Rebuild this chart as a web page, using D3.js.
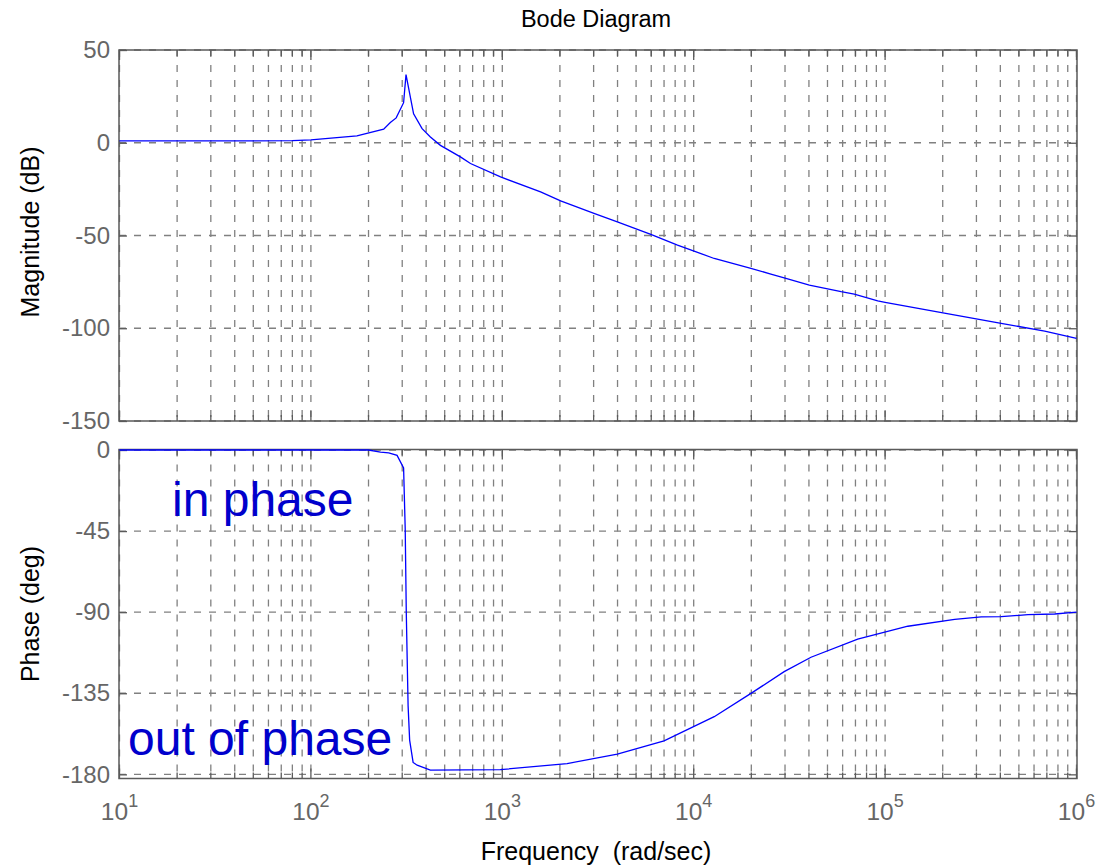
<!DOCTYPE html>
<head>
	<meta charset="utf-8">
	<script src="https://d3js.org/d3.v7.min.js"></script>
	<style>
		body { margin: 0; background: #fff; }
		text { font-family: "Liberation Sans", Arial, sans-serif; }
		.tick text { fill: #666; font-size: 24px; }
		.tick line { stroke: #5a5a5a; stroke-width: 1.3; }
		.grid { stroke: #808080; stroke-width: 1.3; stroke-dasharray: 7,8; fill: none; }
		.frame { stroke: #5a5a5a; stroke-width: 1.5; fill: none; }
		.curve { stroke: #0000ff; stroke-width: 1.3; fill: none; }
		.note { fill: #0000cc; font-size: 48px; }
	</style>
</head>
<body>
	<script>
		// values
		var magFreq = [10, 50, 80, 100, 174, 240, 260, 279, 305, 314, 344, 381, 421, 475, 604, 682, 979,
			1585, 2017, 3013, 3990, 5970, 8230, 10050, 12800, 19900, 25300, 29700, 40200, 58900, 69000,
			91500, 100000, 204000, 404000, 682000, 1000000];
		var magDb = [1.0, 1.0, 1.1, 1.6, 3.7, 7.3, 10.9, 13.4, 21.6, 36.7, 15.6, 7.6, 3.1, -1.4, -7.6, -11.2, -18.4,
			-26.5, -31.3, -38.1, -42.6, -49.4, -55.2, -58.4, -62.4, -67.7, -70.8, -72.8, -76.7, -80.3, -81.6,
			-85.2, -86, -91.8, -97.4, -101.5, -105.4];

		var phaseFreq = [10, 200, 231, 255, 282, 305, 311, 315, 322, 328, 342, 359, 421, 977, 2180, 3990,
			7000, 12800, 20300, 29700, 41000, 71900, 131500, 231000, 318000, 404000, 558000, 769000, 1000000];
		var phaseDeg = [0, 0, -1.2, -1.6, -3, -9.9, -44, -90, -142, -161, -173.4, -174.9, -177.7, -177.4, -174, -168.8,
			-161.4, -148, -134.5, -123, -115, -105, -97.8, -94, -92.6, -92.5, -91.4, -91, -90];

		var magTicks = [50, 0, -50, -100, -150];
		var phaseTicks = [0, -45, -90, -135, -180];
		var decades = [1, 2, 3, 4, 5, 6];

		var w = 1101, h = 866;
		var left = 119, right = 1077;

		var svg = d3.select("body").append("svg")
			.attr("width", w)
			.attr("height", h);

		var x = d3.scaleLog().domain([10, 1e6]).range([119.5, 1076.5]);
		var yMag = d3.scaleLinear().domain([-150, 50]).range([421, 50]);
		var yPh = d3.scaleLinear().domain([-182.3, 0]).range([778.5, 450]);

		function panel(y, ticks, top, bottom, fx, fy) {
			var g = svg.append("g");

			// vertical grid at every log tick
			g.selectAll("line.vg")
				.data(x.ticks())
				.enter().append("line")
				.attr("class", "grid")
				.attr("x1", function(d) { return x(d); })
				.attr("x2", function(d) { return x(d); })
				.attr("y1", top)
				.attr("y2", bottom);

			g.selectAll("line.hg")
				.data(ticks)
				.enter().append("line")
				.attr("class", "grid")
				.attr("x1", left)
				.attr("x2", right)
				.attr("y1", function(d) { return y(d); })
				.attr("y2", function(d) { return y(d); });

			// inward x ticks, top and bottom
			var tk = x.ticks();
			[[bottom, -1], [top, 1]].forEach(function(s) {
				g.selectAll(null)
					.data(tk)
					.enter().append("line")
					.attr("stroke", "#5a5a5a")
					.attr("stroke-width", 1.3)
					.attr("x1", function(d) { return x(d); })
					.attr("x2", function(d) { return x(d); })
					.attr("y1", s[0])
					.attr("y2", function(d) {
						var major = Math.abs(Math.log10(d) - Math.round(Math.log10(d))) < 1e-9;
						return s[0] + s[1] * (major ? 10 : 6);
					});
			});

			var yl = g.append("g")
				.attr("transform", "translate(" + left + ",0)")
				.call(d3.axisLeft(y).tickValues(ticks).tickSizeInner(-8).tickSizeOuter(0).tickPadding(9)
					.tickFormat(function(d) { return String(d); }));
			yl.select(".domain").remove();

			var yr = g.append("g")
				.attr("transform", "translate(" + right + ",0)")
				.call(d3.axisRight(y).tickValues(ticks).tickSizeInner(-8).tickSizeOuter(0).tickFormat(""));
			yr.select(".domain").remove();

			g.append("rect")
				.attr("class", "frame")
				.attr("x", left)
				.attr("y", top)
				.attr("width", right - left)
				.attr("height", bottom - top);

			var line = d3.line()
				.x(function(d, i) { return x(fx[i]); })
				.y(function(d) { return y(d); });

			g.append("path")
				.datum(fy)
				.attr("class", "curve")
				.attr("d", line);
		}

		panel(yMag, magTicks, 50, 421, magFreq, magDb);
		panel(yPh, phaseTicks, 449.5, 778.5, phaseFreq, phaseDeg);

		// x tick labels 10^n
		var xl = svg.selectAll("text.xl")
			.data(decades)
			.enter().append("text")
			.attr("class", "xl")
			.attr("x", function(d) { return x(Math.pow(10, d)); })
			.attr("y", 820)
			.attr("text-anchor", "middle")
			.attr("fill", "#666")
			.style("font-size", "24.5px");
		xl.append("tspan").text("10");
		xl.append("tspan")
			.attr("dy", -13)
			.style("font-size", "18px")
			.text(function(d) { return d; });

		svg.append("text")
			.attr("x", 596)
			.attr("y", 27)
			.attr("text-anchor", "middle")
			.style("font-size", "23.5px")
			.text("Bode Diagram");

		svg.append("text")
			.attr("x", 596)
			.attr("y", 860)
			.attr("text-anchor", "middle")
			.style("font-size", "25px")
			.style("white-space", "pre")
			.text("Frequency  (rad/sec)");

		svg.append("text")
			.attr("transform", "translate(39,232) rotate(-90)")
			.attr("text-anchor", "middle")
			.style("font-size", "25px")
			.text("Magnitude (dB)");

		svg.append("text")
			.attr("transform", "translate(39,614) rotate(-90)")
			.attr("text-anchor", "middle")
			.style("font-size", "25px")
			.text("Phase (deg)");

		svg.append("text")
			.attr("class", "note")
			.attr("x", 172)
			.attr("y", 516)
			.text("in phase");

		svg.append("text")
			.attr("class", "note")
			.attr("x", 128)
			.attr("y", 755)
			.text("out of phase");
	</script>
</body>
